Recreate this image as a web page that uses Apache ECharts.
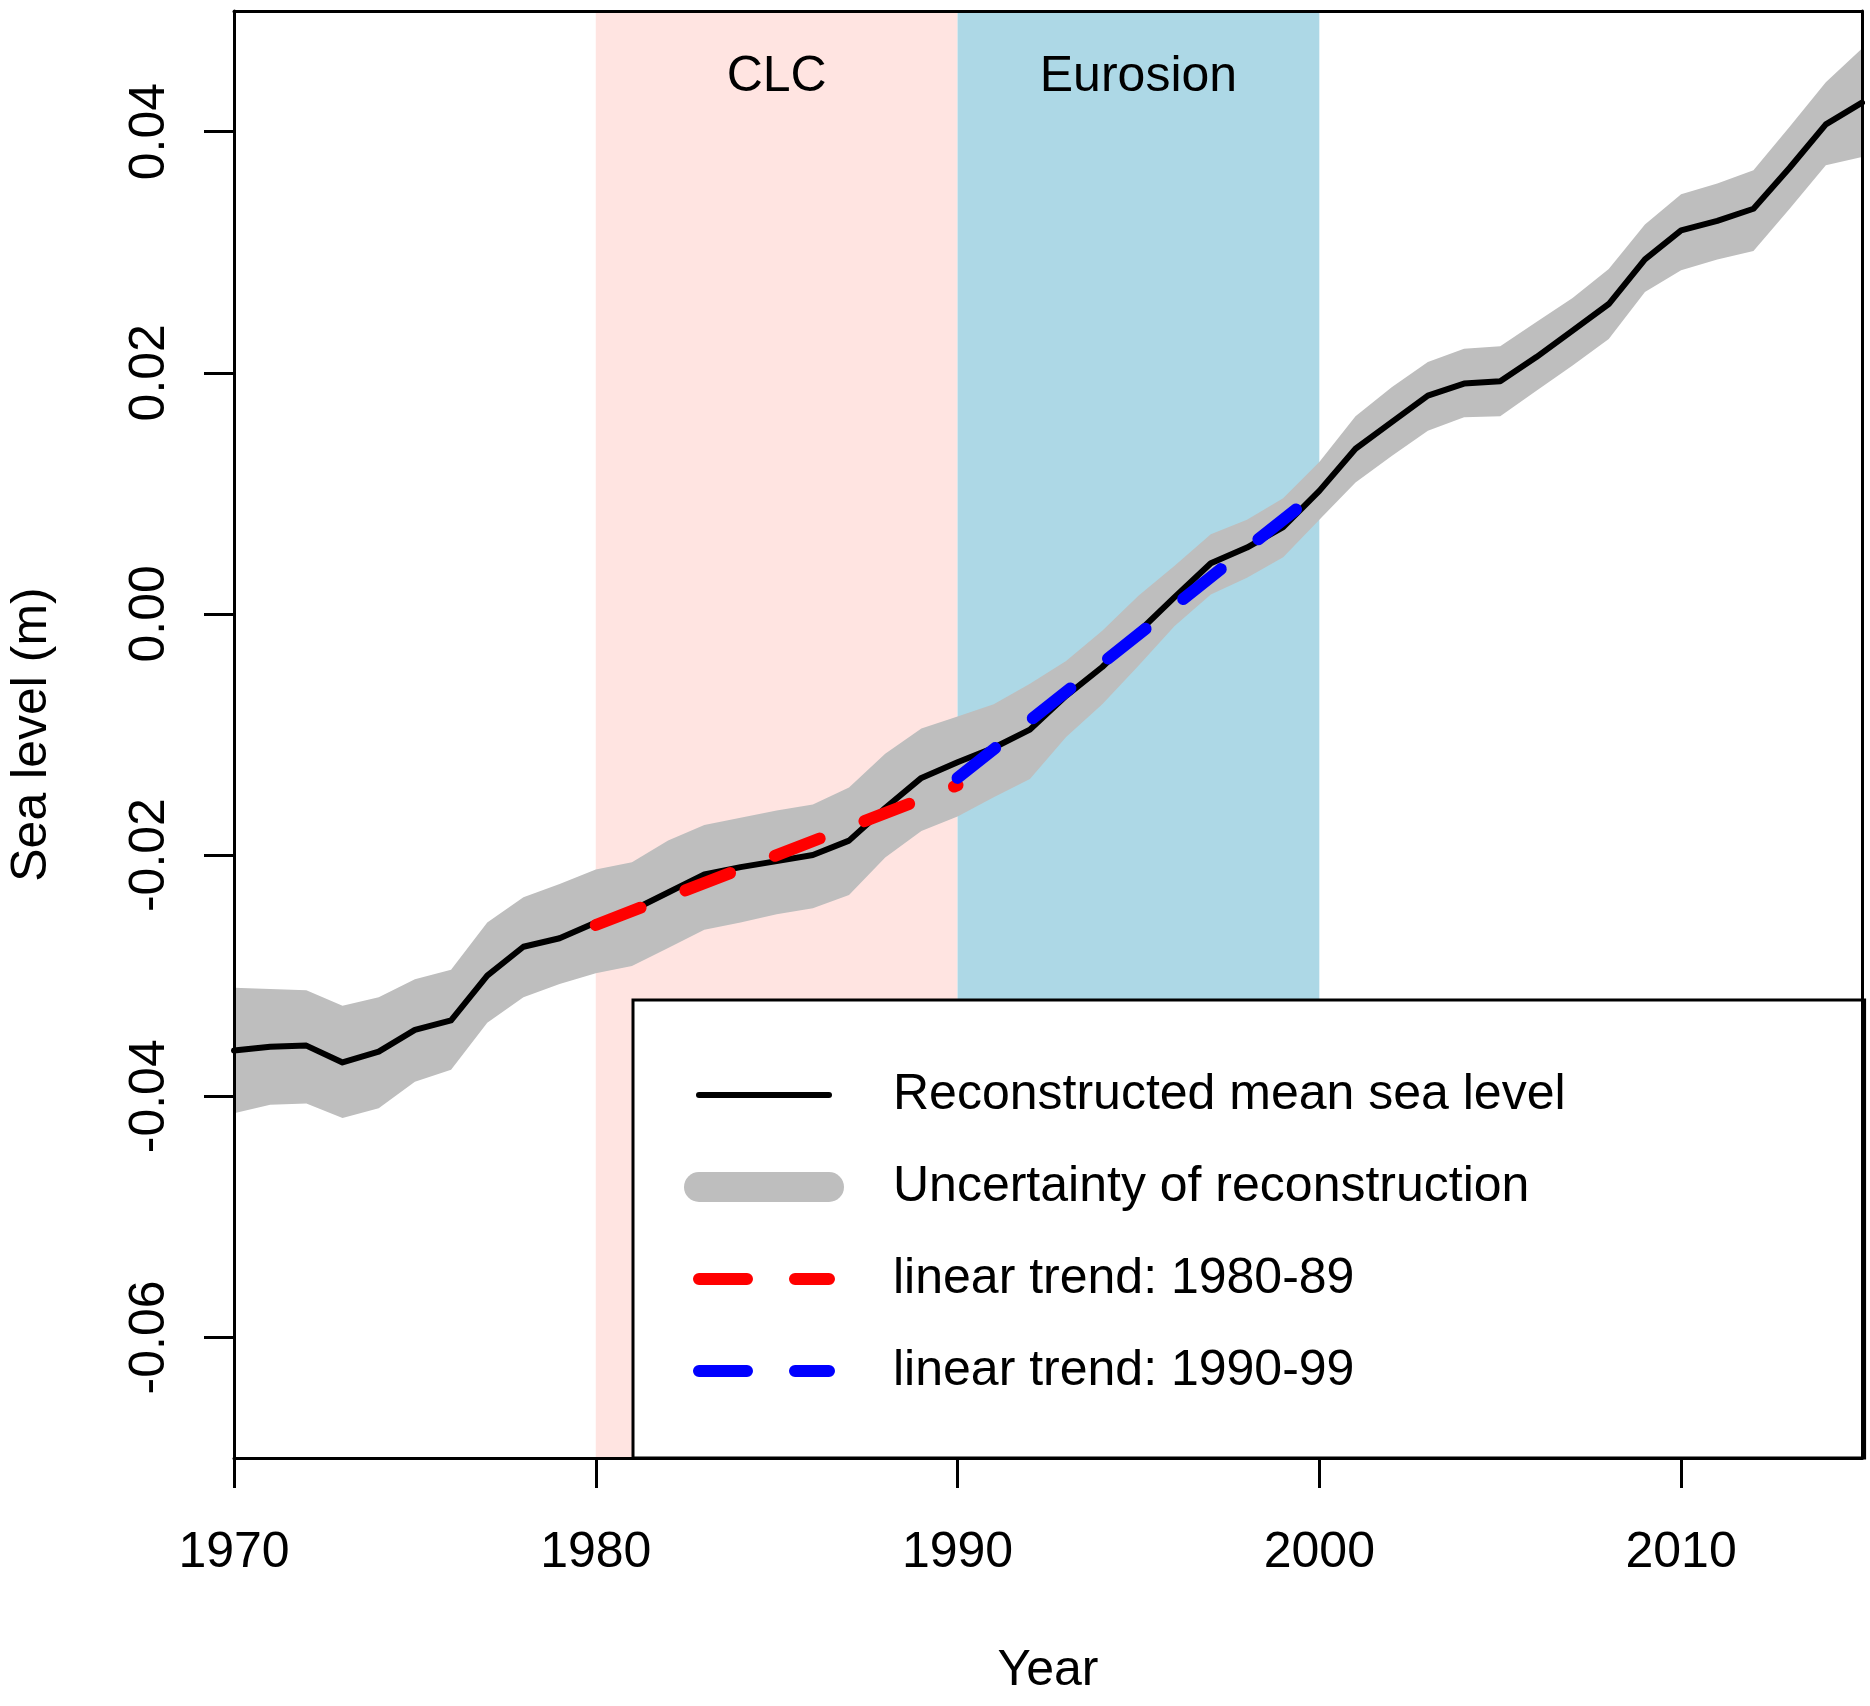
<!DOCTYPE html>
<html>
<head>
<meta charset="utf-8">
<title>Reconstructed mean sea level</title>
<script src="https://cdn.jsdelivr.net/npm/echarts@6/dist/echarts.min.js"></script>
<style>
  html, body { margin: 0; padding: 0; background: #fff; }
  #chart { width: 1870px; height: 1706px; }
</style>
</head>
<body>
<div id="chart"></div>
<script>
// values
var years = [1970, 1971, 1972, 1973, 1974, 1975, 1976, 1977, 1978, 1979,
  1980, 1981, 1982, 1983, 1984, 1985, 1986, 1987, 1988, 1989,
  1990, 1991, 1992, 1993, 1994, 1995, 1996, 1997, 1998, 1999,
  2000, 2001, 2002, 2003, 2004, 2005, 2006, 2007, 2008, 2009,
  2010, 2011, 2012, 2013, 2014, 2015];

var meanLevel = [-0.0362, -0.0359, -0.0358, -0.0372, -0.0363, -0.0345, -0.0337, -0.0300, -0.0276, -0.0269,
  -0.0256, -0.0246, -0.0231, -0.0216, -0.0210, -0.0205, -0.0200, -0.0188, -0.0161, -0.0136,
  -0.0123, -0.0111, -0.0096, -0.0068, -0.0044, -0.0015, 0.0014, 0.0042, 0.0055, 0.0072,
  0.0102, 0.0137, 0.0159, 0.0181, 0.0191, 0.0193, 0.0213, 0.0235, 0.0257, 0.0294,
  0.0318, 0.0326, 0.0336, 0.0370, 0.0406, 0.0424];

var upperBound = [-0.0310, -0.0311, -0.0312, -0.0325, -0.0318, -0.0303, -0.0295, -0.0256, -0.0235, -0.0224,
  -0.0212, -0.0206, -0.0188, -0.0175, -0.0169, -0.0163, -0.0158, -0.0144, -0.0116, -0.0095,
  -0.0085, -0.0075, -0.0058, -0.0039, -0.0014, 0.0015, 0.0040, 0.0066, 0.0078, 0.0096,
  0.0126, 0.0164, 0.0188, 0.0209, 0.0220, 0.0222, 0.0242, 0.0262, 0.0286, 0.0323,
  0.0348, 0.0357, 0.0368, 0.0404, 0.0441, 0.0469];

var lowerBound = [-0.0414, -0.0407, -0.0406, -0.0418, -0.0410, -0.0388, -0.0378, -0.0339, -0.0318, -0.0307,
  -0.0298, -0.0292, -0.0277, -0.0262, -0.0256, -0.0249, -0.0244, -0.0233, -0.0202, -0.0180,
  -0.0168, -0.0152, -0.0137, -0.0102, -0.0075, -0.0043, -0.0010, 0.0016, 0.0030, 0.0047,
  0.0078, 0.0109, 0.0131, 0.0152, 0.0163, 0.0164, 0.0185, 0.0206, 0.0228, 0.0267,
  0.0285, 0.0294, 0.0301, 0.0336, 0.0372, 0.0379];

var trendYears80 = [1980, 1990];
var trend80 = [-0.0258, -0.0142];
var trendYears90 = [1990, 2000];
var trend90 = [-0.0136, 0.0102];

var periodNames = ['CLC', 'Eurosion'];
var periodStart = [1980, 1990];
var periodEnd = [1990, 2000];

var xTicks = [1970, 1980, 1990, 2000, 2010];
var yTicks = [-0.06, -0.04, -0.02, 0, 0.02, 0.04];

var FONT = 'Liberation Sans, Arial, sans-serif';
var FS = 50;
var DASH = [48, 48];

function pairs(xs, ys) {
  return xs.map(function (x, i) { return [x, ys[i]]; });
}

// whole uncertainty band as one polygon: upper edge forward, lower edge back
function renderBand(params, api) {
  if (params.dataIndex !== 0) return null;
  var pts = [];
  for (var i = 0; i < years.length; i++) {
    pts.push(api.coord([years[i], upperBound[i]]));
  }
  for (var j = years.length - 1; j >= 0; j--) {
    pts.push(api.coord([years[j], lowerBound[j]]));
  }
  return {
    type: 'polygon',
    shape: { points: pts },
    style: { fill: '#BEBEBE', stroke: null }
  };
}

var chart = echarts.init(document.getElementById('chart'), null, { renderer: 'canvas' });

var axisLine = { show: true, onZero: false, lineStyle: { color: '#000', width: 3 } };

var option = {
  animation: false,
  backgroundColor: '#fff',
  textStyle: { fontFamily: FONT, color: '#000' },
  grid: { left: 234, right: 8, top: 11, bottom: 248, outerBoundsMode: 'none', containLabel: false },
  xAxis: [{
    type: 'value',
    min: 1970,
    max: 2015,
    z: 10,
    name: 'Year',
    nameLocation: 'middle',
    nameGap: 188,
    nameTextStyle: { fontSize: FS, color: '#000', fontFamily: FONT },
    axisLine: axisLine,
    axisTick: { show: true, length: 30, lineStyle: { color: '#000', width: 3 }, customValues: xTicks },
    axisLabel: {
      fontSize: FS, color: '#000', fontFamily: FONT, margin: 70,
      customValues: xTicks,
      formatter: function (v) { return String(v); }
    },
    splitLine: { show: false }
  }, {
    type: 'value',
    position: 'top',
    min: 1970,
    max: 2015,
    z: 10,
    axisLine: axisLine,
    axisTick: { show: false },
    axisLabel: { show: false },
    splitLine: { show: false }
  }],
  yAxis: [{
    type: 'value',
    min: -0.07,
    max: 0.05,
    z: 10,
    name: 'Sea level (m)',
    nameLocation: 'middle',
    nameGap: 177,
    nameTextStyle: { fontSize: FS, color: '#000', fontFamily: FONT },
    axisLine: axisLine,
    axisTick: { show: true, length: 30, lineStyle: { color: '#000', width: 3 }, customValues: yTicks },
    axisLabel: {
      fontSize: FS, color: '#000', fontFamily: FONT, margin: 59, rotate: 90,
      customValues: yTicks,
      formatter: function (v) { return v.toFixed(2); }
    },
    splitLine: { show: false }
  }, {
    type: 'value',
    position: 'right',
    min: -0.07,
    max: 0.05,
    z: 10,
    axisLine: axisLine,
    axisTick: { show: false },
    axisLabel: { show: false },
    splitLine: { show: false }
  }],
  legend: {
    orient: 'vertical',
    left: 633,
    top: 1000,
    padding: [70, 299, 62, 51],
    itemGap: 42,
    itemWidth: 130,
    itemHeight: 50,
    backgroundColor: '#fff',
    borderColor: '#000',
    borderWidth: 3,
    borderRadius: 0,
    selectedMode: false,
    textStyle: { fontSize: FS, color: '#000', fontFamily: FONT, padding: [0, 0, 0, 59] },
    data: [
      { name: 'Reconstructed mean sea level', lineStyle: { width: 6, color: '#000', cap: 'round' }, itemStyle: { opacity: 0 } },
      { name: 'Uncertainty of reconstruction', lineStyle: { width: 30, color: '#BEBEBE', cap: 'round' }, itemStyle: { opacity: 0 } },
      { name: 'linear trend: 1980-89', lineStyle: { width: 12, color: '#FF0000', type: DASH, cap: 'round' }, itemStyle: { opacity: 0 } },
      { name: 'linear trend: 1990-99', lineStyle: { width: 12, color: '#0000FF', type: DASH, cap: 'round' }, itemStyle: { opacity: 0 } }
    ]
  },
  series: [
    {
      name: 'band',
      type: 'custom',
      coordinateSystem: 'cartesian2d',
      silent: true,
      z: 2,
      renderItem: renderBand,
      encode: { x: 0, y: [1, 2] },
      data: years.map(function (y, i) { return [y, lowerBound[i], upperBound[i]]; }),
      markArea: {
        silent: true,
        label: {
          show: true, position: 'insideTop', distance: 41,
          fontSize: FS, color: '#000', fontFamily: FONT
        },
        data: [
          [{ name: periodNames[0], xAxis: periodStart[0], itemStyle: { color: '#FFE4E1', opacity: 1 } }, { xAxis: periodEnd[0] }],
          [{ name: periodNames[1], xAxis: periodStart[1], itemStyle: { color: '#ADD8E6', opacity: 1 } }, { xAxis: periodEnd[1] }]
        ]
      }
    },
    {
      // legend entry for the band
      name: 'Uncertainty of reconstruction',
      type: 'line',
      symbol: 'none',
      silent: true,
      color: '#BEBEBE',
      lineStyle: { width: 30, color: '#BEBEBE', cap: 'round' },
      data: []
    },
    {
      name: 'Reconstructed mean sea level',
      type: 'line',
      symbol: 'none',
      silent: true,
      z: 3,
      color: '#000',
      lineStyle: { width: 6, color: '#000', join: 'round', cap: 'round' },
      data: pairs(years, meanLevel)
    },
    {
      name: 'linear trend: 1980-89',
      type: 'line',
      symbol: 'none',
      silent: true,
      z: 4,
      color: '#FF0000',
      lineStyle: { width: 12, color: '#FF0000', type: DASH, cap: 'round' },
      data: pairs(trendYears80, trend80)
    },
    {
      name: 'linear trend: 1990-99',
      type: 'line',
      symbol: 'none',
      silent: true,
      z: 4,
      color: '#0000FF',
      lineStyle: { width: 12, color: '#0000FF', type: DASH, cap: 'round' },
      data: pairs(trendYears90, trend90)
    }
  ]
};

chart.setOption(option);
</script>
</body>
</html>
